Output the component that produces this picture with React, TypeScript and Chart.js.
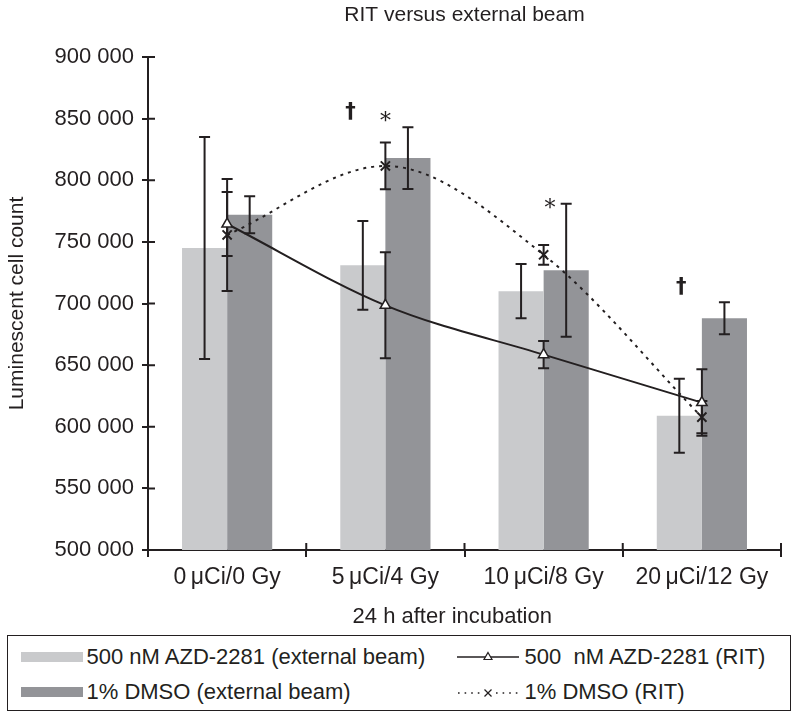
import React, { useEffect, useRef } from 'react';
import { Chart, registerables } from 'chart.js';

Chart.register(...registerables);

// ---------- data ----------
const categories = ['0\u2009μCi/0 Gy', '5\u2009μCi/4 Gy', '10\u2009μCi/8 Gy', '20\u2009μCi/12 Gy'];

const azdBeam = [745000, 731000, 710000, 609000];
const azdBeamErr = [90000, 36000, 22000, 30000];

const dmsoBeam = [772000, 818000, 727000, 688000];
const dmsoBeamErr = [15000, 25000, 54000, 13000];

const azdRit = [764500, 698500, 658500, 619600];
const azdRitErr = [26000, 43000, 11000, 27000];

const dmsoRit = [755600, 811600, 739500, 607800];
const dmsoRitErr = [45500, 19000, 8000, 13000];

const yTicks = [500000, 550000, 600000, 650000, 700000, 750000, 800000, 850000, 900000];

const markCategory = [1, 1, 2, 3];
const markSymbol = ['†', '*', '*', '†'];
const markValue = [854600, 852000, 781500, 712600];

// ---------- styles ----------
const INK = '#231f20';
const LIGHT = '#c9cacc';
const DARK = '#939498';
const FAMILY = '"Liberation Sans", Arial, Helvetica, sans-serif';

function drawErrors(chart: any, dsIndex: number) {
  const ds = chart.data.datasets[dsIndex];
  const errs = ds.errors as number[] | undefined;
  if (!errs) return;
  const meta = chart.getDatasetMeta(dsIndex);
  const yScale = chart.scales.y;
  const ctx = chart.ctx;
  ctx.save();
  ctx.strokeStyle = INK;
  ctx.lineWidth = 2;
  ctx.lineCap = 'butt';
  meta.data.forEach((el: any, i: number) => {
    const v = ds.data[i];
    const e = errs[i];
    const x = el.x;
    const yt = yScale.getPixelForValue(v + e);
    const yb = yScale.getPixelForValue(v - e);
    const cap = 5.5;
    ctx.beginPath();
    ctx.moveTo(x, yt);
    ctx.lineTo(x, yb);
    ctx.moveTo(x - cap, yt);
    ctx.lineTo(x + cap, yt);
    ctx.moveTo(x - cap, yb);
    ctx.lineTo(x + cap, yb);
    ctx.stroke();
  });
  ctx.restore();
}

const errorBarPlugin = {
  id: 'errorBars',
  beforeDatasetDraw(chart: any, args: any) {
    const ds = chart.data.datasets[args.index];
    if (ds.type === 'line') drawErrors(chart, args.index);
  },
  afterDatasetDraw(chart: any, args: any) {
    const ds = chart.data.datasets[args.index];
    if (ds.type !== 'line') drawErrors(chart, args.index);
  },
};

const innerTicksPlugin = {
  id: 'innerTicks',
  afterDraw(chart: any) {
    const { ctx, chartArea, scales } = chart;
    const x = scales.x;
    const y = scales.y;
    ctx.save();
    ctx.strokeStyle = INK;
    ctx.lineWidth = 2;
    ctx.beginPath();
    y.ticks.forEach((_t: any, i: number) => {
      const p = y.getPixelForTick(i);
      ctx.moveTo(chartArea.left, p);
      ctx.lineTo(chartArea.left + 7, p);
    });
    const step = x.getPixelForTick(1) - x.getPixelForTick(0);
    for (let i = 0; i < x.ticks.length; i++) {
      const p = x.getPixelForTick(i) + step / 2;
      ctx.moveTo(p, chartArea.bottom);
      ctx.lineTo(p, chartArea.bottom - 7);
    }
    ctx.stroke();
    ctx.restore();
  },
};

const marksPlugin = {
  id: 'marks',
  afterDatasetsDraw(chart: any, _args: any, opts: any) {
    const { ctx, scales } = chart;
    const x = scales.x;
    const y = scales.y;
    const step = x.getPixelForTick(1) - x.getPixelForTick(0);
    ctx.save();
    ctx.fillStyle = INK;
    ctx.textAlign = 'center';
    ctx.textBaseline = 'middle';
    markCategory.forEach((c, i) => {
      const s = markSymbol[i];
      const px = x.getPixelForValue(c) + (opts.shift?.[i] ?? 0) * step;
      const py = y.getPixelForValue(markValue[i]);
      if (s === '*') {
        ctx.font = '22px "DejaVu Serif", serif';
        ctx.fillText(s, px, py + 6);
      } else {
        ctx.font = 'bold 21px "DejaVu Sans", sans-serif';
        ctx.fillText(s, px, py);
      }
    });
    ctx.restore();
  },
};

function ChartCanvas() {
  const ref = useRef<HTMLCanvasElement | null>(null);
  useEffect(() => {
    if (!ref.current) return;
    const chart = new Chart(ref.current, {
      type: 'bar',
      data: {
        labels: categories,
        datasets: [
          {
            type: 'bar',
            label: '500 nM AZD-2281 (external beam)',
            data: azdBeam,
            errors: azdBeamErr,
            backgroundColor: LIGHT,
            borderWidth: 0,
            order: 3,
          } as any,
          {
            type: 'bar',
            label: '1% DMSO (external beam)',
            data: dmsoBeam,
            errors: dmsoBeamErr,
            backgroundColor: DARK,
            borderWidth: 0,
            order: 3,
          } as any,
          {
            type: 'line',
            label: '500 nM AZD-2281 (RIT)',
            data: azdRit,
            errors: azdRitErr,
            borderColor: INK,
            borderWidth: 2,
            cubicInterpolationMode: 'monotone',
            pointStyle: 'triangle',
            pointRadius: 6,
            pointBackgroundColor: '#ffffff',
            pointBorderColor: INK,
            pointBorderWidth: 1.5,
            fill: false,
            order: 0,
          } as any,
          {
            type: 'line',
            label: '1% DMSO (RIT)',
            data: dmsoRit,
            errors: dmsoRitErr,
            borderColor: INK,
            borderWidth: 2,
            borderDash: [3, 5],
            cubicInterpolationMode: 'monotone',
            pointStyle: 'crossRot',
            pointRadius: 6.5,
            pointBackgroundColor: '#ffffff',
            pointBorderColor: INK,
            pointBorderWidth: 2,
            fill: false,
            order: 1,
          } as any,
        ],
      },
      options: {
        animation: false,
        responsive: false,
        devicePixelRatio: 1,
        layout: { padding: { left: 0, right: 19, top: 0, bottom: 0 } },
        datasets: {
          bar: { categoryPercentage: 0.57, barPercentage: 1 },
        } as any,
        plugins: {
          legend: { display: false },
          tooltip: { enabled: false },
          title: {
            display: true,
            text: 'RIT versus external beam',
            color: INK,
            fullSize: false,
            font: { family: FAMILY, size: 21, weight: 'normal', lineHeight: 1.2 },
            padding: { top: 3, bottom: 28.8 },
          },
          marks: { shift: [-0.22, 0, 0.04, -0.13] },
        } as any,
        scales: {
          x: {
            type: 'category',
            offset: true,
            grid: {
              display: true,
              drawOnChartArea: false,
              drawTicks: true,
              tickLength: 7,
              color: INK,
              lineWidth: 2,
              offset: true,
            },
            border: { display: true, color: INK, width: 2 },
            ticks: {
              color: INK,
              font: { family: FAMILY, size: 23 },
              padding: 7,
              maxRotation: 0,
              autoSkip: false,
            },
            title: {
              display: true,
              text: '24 h after incubation\u00a0\u00a0\u00a0\u00a0',
              color: INK,
              font: { family: FAMILY, size: 22, lineHeight: 1.2 },
              padding: { top: 0, bottom: 0 },
            },
            afterFit: (s: any) => {
              s.height = 80;
            },
          },
          y: {
            type: 'linear',
            min: yTicks[0],
            max: yTicks[yTicks.length - 1],
            afterBuildTicks: (s: any) => {
              s.ticks = yTicks.map((v) => ({ value: v }));
            },
            ticks: {
              color: INK,
              font: { family: FAMILY, size: 22 },
              padding: 8,
              callback: (v: any) => `${Math.round(Number(v) / 1000)} 000`,
            },
            grid: {
              display: true,
              drawOnChartArea: false,
              drawTicks: true,
              tickLength: 6,
              color: INK,
              lineWidth: 2,
            },
            border: { display: true, color: INK, width: 2 },
            title: {
              display: true,
              text: 'Luminescent cell count',
              color: INK,
              font: { family: FAMILY, size: 21, lineHeight: 1.2 },
              padding: { top: 5, bottom: 0 },
            },
            afterFit: (s: any) => {
              s.width = 148;
            },
          },
        } as any,
      },
      plugins: [errorBarPlugin, innerTicksPlugin, marksPlugin],
    });
    return () => chart.destroy();
  }, []);
  return <canvas ref={ref} width={800} height={630} style={{ display: 'block' }} />;
}

function Legend() {
  const rowH = 26;
  const text: React.CSSProperties = {
    position: 'absolute',
    lineHeight: `${rowH}px`,
    whiteSpace: 'pre',
  };
  const r1 = 22;
  const r2 = 57;
  return (
    <div
      style={{
        position: 'absolute',
        left: 7,
        top: 635,
        width: 784,
        height: 76,
        border: `1.5px solid ${INK}`,
        boxSizing: 'border-box',
        fontFamily: FAMILY,
        fontSize: 22,
        color: INK,
      }}
    >
      <div style={{ position: 'absolute', left: 13, top: r1 - 5 - 1.5, width: 62, height: 10, background: LIGHT }} />
      <div style={{ ...text, left: 78.5, top: r1 - rowH / 2 - 1.5 }}>500 nM AZD-2281 (external beam)</div>
      <div style={{ position: 'absolute', left: 13, top: r2 - 5 - 1.5, width: 62, height: 10, background: DARK }} />
      <div style={{ ...text, left: 78.5, top: r2 - rowH / 2 - 1.5 }}>1% DMSO (external beam)</div>

      <svg style={{ position: 'absolute', left: 448.5, top: r1 - 10 - 1.5 }} width={62} height={20}>
        <line x1={0} y1={10} x2={62} y2={10} stroke={INK} strokeWidth={1.6} />
        <polygon points="31,5.5 35,12.5 27,12.5" fill="#fff" stroke={INK} strokeWidth={1.2} />
      </svg>
      <div style={{ ...text, left: 516.5, top: r1 - rowH / 2 - 1.5 }}>500  nM AZD-2281 (RIT)</div>

      <svg style={{ position: 'absolute', left: 448.5, top: r2 - 10 - 1.5 }} width={62} height={20}>
        <line x1={1} y1={11} x2={24} y2={11} stroke={INK} strokeWidth={1.6} strokeDasharray="1.6 5" />
        <line x1={39} y1={11} x2={62} y2={11} stroke={INK} strokeWidth={1.6} strokeDasharray="1.6 5" />
        <line x1={27.5} y1={7.5} x2={34.5} y2={14.5} stroke={INK} strokeWidth={1.3} />
        <line x1={34.5} y1={7.5} x2={27.5} y2={14.5} stroke={INK} strokeWidth={1.3} />
      </svg>
      <div style={{ ...text, left: 516.5, top: r2 - rowH / 2 - 1.5 }}>1% DMSO (RIT)</div>
    </div>
  );
}

export default function App() {
  return (
    <div style={{ position: 'absolute', left: 0, top: 0, width: 800, height: 719, background: '#fff' }}>
      <ChartCanvas />
      <Legend />
    </div>
  );
}
